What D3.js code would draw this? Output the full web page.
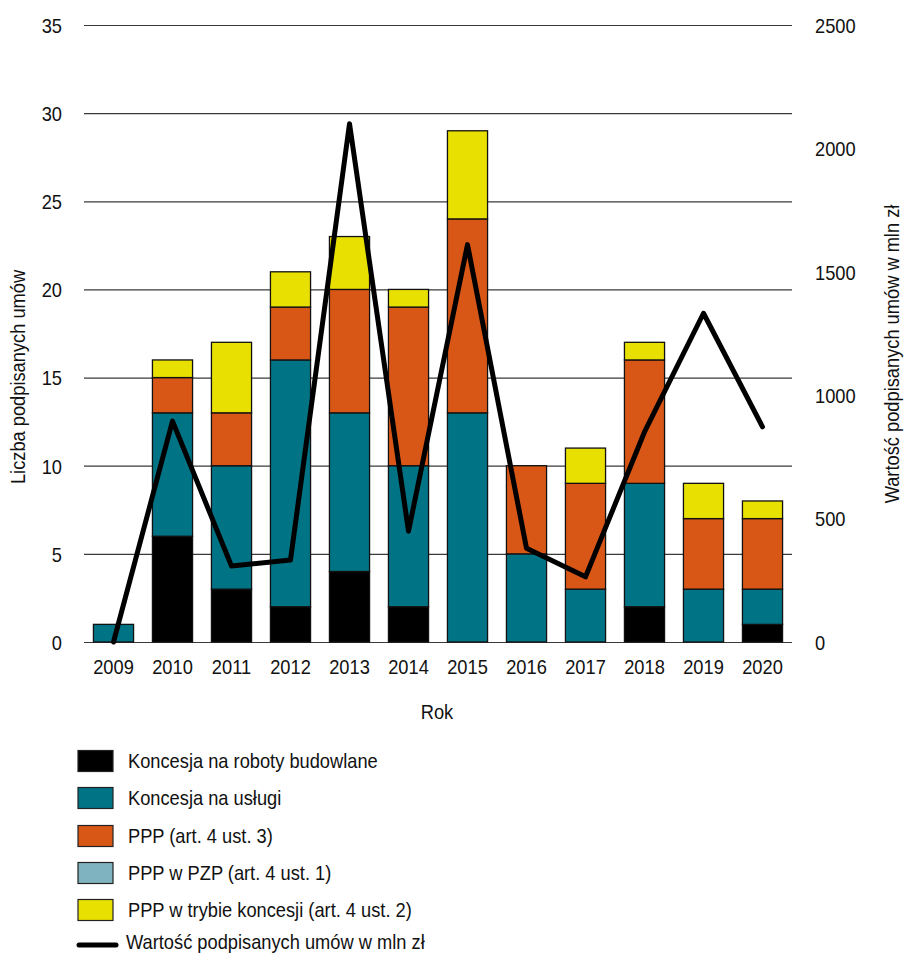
<!DOCTYPE html>
<html><head><meta charset="utf-8">
<script src="https://cdn.jsdelivr.net/npm/d3@7"></script>
<style>body{margin:0;background:#fff}svg text{font-family:"Liberation Sans",Arial,sans-serif;fill:#111}</style>
</head><body><svg id="c" width="904" height="955"></svg>
<script>
const years = ["2009","2010","2011","2012","2013","2014","2015","2016","2017","2018","2019","2020"];
const seriesNames = ["Koncesja na roboty budowlane","Koncesja na usługi","PPP (art. 4 ust. 3)","PPP w PZP (art. 4 ust. 1)","PPP w trybie koncesji (art. 4 ust. 2)"];
const roboty  = [0,6,3,2,4,2,0,0,0,2,0,1];
const uslugi  = [1,7,7,14,9,8,13,5,3,7,3,2];
const ppp     = [0,2,3,3,7,9,11,5,6,7,4,4];
const pzp     = [0,0,0,0,0,0,0,0,0,0,0,0];
const koncesji= [0,1,4,2,3,1,5,0,2,1,2,1];
const wartosc = [0,895,308,332,2100,449,1610,380,264,851,1332,872];
const leftTicks = [0,5,10,15,20,25,30,35];
const rightTicks = [0,500,1000,1500,2000,2500];
const lineName = "Wartość podpisanych umów w mln zł";
const colors = ["#000000","#007385","#d95716","#80b3c0","#e8e000"];

const FS = "21px", SX = 0.87;
function cond(sel){
  sel.each(function(){
    const t = d3.select(this);
    const xv = +(t.attr("x")||0);
    t.attr("x", xv/SX);
    const tr = t.attr("transform")||"";
    t.attr("transform", tr + ` scale(${SX},1)`);
    t.style("font-size",FS);
  });
}

const svg = d3.select("#c");
const x0 = 84, x1 = 792, yTop = 25, yBot = 642;
const x = d3.scaleBand().domain(years).range([x0,x1]).paddingInner(0.32).paddingOuter(0.16);
const y = d3.scaleLinear().domain([0,35]).range([yBot,yTop]);
const y2 = d3.scaleLinear().domain([0,2500]).range([yBot,yTop]);

const gAxL = svg.append("g").attr("transform",`translate(${x0},0)`)
  .call(d3.axisLeft(y).tickValues(leftTicks).tickSize(0).tickPadding(22).tickFormat(d3.format("d")));
gAxL.select(".domain").remove();
gAxL.selectAll("text").attr("dy","0.35em").call(cond);
svg.append("g").selectAll("line").data(leftTicks).join("line")
  .attr("x1",x0).attr("x2",x1).attr("y1",d=>y(d)+0.5).attr("y2",d=>y(d)+0.5)
  .attr("stroke","#3a3a3a").attr("stroke-width",1.2);

const gAxR = svg.append("g").attr("transform",`translate(${x1},0)`)
  .call(d3.axisRight(y2).tickValues(rightTicks).tickSize(0).tickPadding(23).tickFormat(d3.format("d")));
gAxR.select(".domain").remove();
gAxR.selectAll("text").attr("dy","0.35em").call(cond);

const rows = years.map((yr,i)=>({year:yr,s0:roboty[i],s1:uslugi[i],s2:ppp[i],s3:pzp[i],s4:koncesji[i]}));
const stack = d3.stack().keys(["s0","s1","s2","s3","s4"])(rows);
svg.append("g").selectAll("g").data(stack).join("g").attr("fill",(d,i)=>colors[i])
  .selectAll("rect").data(d=>d.filter(p=>p[1]-p[0]>0)).join("rect")
  .attr("x",d=>x(d.data.year)).attr("width",x.bandwidth())
  .attr("y",d=>y(d[1])).attr("height",d=>y(d[0])-y(d[1]))
  .attr("stroke","#111").attr("stroke-width",1.3);

const line = d3.line().x((d,i)=>x(years[i])+x.bandwidth()/2).y(d=>y2(d));
svg.append("path").datum(wartosc).attr("d",line).attr("fill","none")
  .attr("stroke","#000").attr("stroke-width",5).attr("stroke-linejoin","round").attr("stroke-linecap","round");

const gx = svg.append("g").attr("transform",`translate(0,${yBot})`)
  .call(d3.axisBottom(x).tickSize(0).tickPadding(17));
gx.select(".domain").remove();
gx.selectAll("text").call(cond);

svg.append("text").attr("transform","translate(437,719)").attr("text-anchor","middle").text("Rok").call(cond);
svg.append("text").attr("transform","translate(25,377) rotate(-90)").attr("text-anchor","middle").text("Liczba podpisanych umów").call(cond);
svg.append("text").attr("transform","translate(899,354) rotate(-90)").attr("text-anchor","middle").text(lineName).call(cond);

const lg = svg.append("g");
const ly = [761,798,836,873,910];
seriesNames.forEach((n,i)=>{
  lg.append("rect").attr("x",78).attr("y",ly[i]-10.5).attr("width",35).attr("height",21)
    .attr("fill",colors[i]).attr("stroke","#222").attr("stroke-width",1.2);
  lg.append("text").attr("transform",`translate(128,${ly[i]})`).attr("dy","0.35em").text(n).call(cond);
});
lg.append("line").attr("x1",79).attr("x2",116).attr("y1",945).attr("y2",945)
  .attr("stroke","#000").attr("stroke-width",5).attr("stroke-linecap","round");
lg.append("text").attr("transform","translate(126,942)").attr("dy","0.35em").text(lineName).call(cond);
</script></body></html>
